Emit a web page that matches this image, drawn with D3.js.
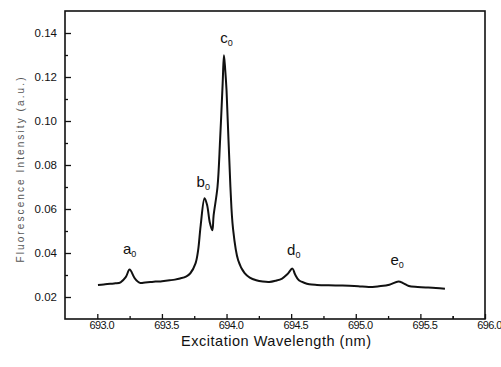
<!DOCTYPE html>
<html>
<head>
<meta charset="utf-8">
<script src="https://cdn.jsdelivr.net/npm/d3@7"></script>
<style>
  body { margin: 0; background: #fff; }
  text { font-family: "Liberation Sans", Arial, sans-serif; fill: #111; }
</style>
</head>
<body>
<div id="chart"></div>
<script>
// Spectrum: wavelength (nm) and intensity (a.u.)
var wavelength = [693.005, 693.05, 693.10, 693.14, 693.18, 693.22, 693.25, 693.29, 693.33, 693.37,
  693.41, 693.45, 693.49, 693.53, 693.56, 693.60, 693.64, 693.69, 693.72, 693.76,
  693.78, 693.80, 693.83, 693.85, 693.87, 693.89, 693.90, 693.93, 693.95, 693.97,
  693.98, 693.99, 694.00, 694.03, 694.05, 694.09, 694.14, 694.18, 694.23, 694.28,
  694.33, 694.38, 694.43, 694.47, 694.51, 694.53, 694.56, 694.60, 694.64, 694.70,
  694.79, 694.87, 694.95, 695.02, 695.10, 695.18, 695.26, 695.33, 695.37, 695.41,
  695.48, 695.56, 695.62, 695.69];
var intensity = [0.0255, 0.0257, 0.0260, 0.0262, 0.0267, 0.0290, 0.0325, 0.0285, 0.0264, 0.0266,
  0.0268, 0.0270, 0.0271, 0.0274, 0.0276, 0.0279, 0.0284, 0.0294, 0.0308, 0.0353,
  0.0412, 0.0526, 0.0649, 0.0617, 0.0540, 0.0503, 0.0571, 0.0700, 0.0912, 0.1171,
  0.1299, 0.1230, 0.1140, 0.0700, 0.0512, 0.0367, 0.0308, 0.0288, 0.0276, 0.0270,
  0.0268, 0.0274, 0.0284, 0.0303, 0.0329, 0.0303, 0.0276, 0.0265, 0.0258, 0.0255,
  0.0253, 0.0252, 0.0251, 0.0249, 0.0245, 0.0249, 0.0256, 0.0271, 0.0262, 0.0250,
  0.0246, 0.0243, 0.0241, 0.0238];

// Peak labels
var peakNames = ["a", "b", "c", "d", "e"];
var peakX = [693.25, 693.82, 694.00, 694.52, 695.32];
var peakY = [0.0395, 0.0699, 0.1355, 0.0390, 0.0345];

var xTicks = [693.0, 693.5, 694.0, 694.5, 695.0, 695.5, 696.0];
var yTicks = [0.02, 0.04, 0.06, 0.08, 0.10, 0.12, 0.14];

var svgWidth = 501, svgHeight = 367;
var margin = {top: 11, right: 16, bottom: 48, left: 65};
var chartWidth = svgWidth - margin.left - margin.right;
var chartHeight = svgHeight - margin.top - margin.bottom;

var svg = d3.select("#chart").append("svg")
    .attr("width", svgWidth)
    .attr("height", svgHeight);

var chartGroup = svg.append("g")
    .attr("transform", `translate(${margin.left}, ${margin.top})`);

var xScale = d3.scaleLinear().domain([692.75, 696.0]).range([0, chartWidth]);
var yScale = d3.scaleLinear().domain([0.01, 0.15]).range([chartHeight, 0]);

// frame
chartGroup.append("rect")
    .attr("width", chartWidth)
    .attr("height", chartHeight)
    .attr("fill", "none")
    .attr("stroke", "#111")
    .attr("stroke-width", 1.6);

// minor ticks
var xMinor = xTicks.map(d => d - 0.25).concat([695.75]).filter(d => d > 692.75);
var yMinor = yTicks.map(d => d + 0.01).filter(d => d < 0.15);

chartGroup.append("g")
    .attr("transform", `translate(0, ${chartHeight})`)
    .call(d3.axisBottom(xScale).tickValues(xMinor).tickSize(-3).tickFormat(""))
    .call(g => g.select(".domain").remove());
chartGroup.append("g")
    .call(d3.axisLeft(yScale).tickValues(yMinor).tickSize(-3).tickFormat(""))
    .call(g => g.select(".domain").remove());

// major ticks
var xAxis = chartGroup.append("g")
    .attr("transform", `translate(0, ${chartHeight})`)
    .call(d3.axisBottom(xScale).tickValues(xTicks).tickSize(-5).tickPadding(2).tickFormat(d3.format(".1f")));
xAxis.select(".domain").remove();
xAxis.selectAll("text")
    .attr("dx", 4)
    .style("font-size", "11px")
    .style("letter-spacing", "-0.6px");

var yAxis = chartGroup.append("g")
    .call(d3.axisLeft(yScale).tickValues(yTicks).tickSize(-6).tickPadding(8).tickFormat(d3.format(".2f")));
yAxis.select(".domain").remove();
yAxis.selectAll("text").style("font-size", "11.5px");

chartGroup.selectAll(".tick line").attr("stroke", "#111").attr("stroke-width", 1.3);

// spectrum
var line = d3.line()
    .x((d, i) => xScale(wavelength[i]))
    .y(d => yScale(d))
    .curve(d3.curveCatmullRom.alpha(0.5));

chartGroup.append("path")
    .datum(intensity)
    .attr("d", line)
    .attr("fill", "none")
    .attr("stroke", "#111")
    .attr("stroke-width", 2)
    .attr("stroke-linejoin", "round");

// peak labels
var labels = chartGroup.append("g").selectAll("text")
    .data(peakNames)
    .enter()
    .append("text")
    .attr("x", (d, i) => xScale(peakX[i]))
    .attr("y", (d, i) => yScale(peakY[i]))
    .attr("text-anchor", "middle")
    .style("font-size", "15px");
labels.append("tspan").text(d => d);
labels.append("tspan").attr("dy", 3).style("font-size", "9px").text("0");

// axis titles
chartGroup.append("text")
    .attr("x", chartWidth / 2 + 1)
    .attr("y", chartHeight + 27)
    .attr("text-anchor", "middle")
    .attr("textLength", 190)
    .style("font-size", "14.5px")
    .text("Excitation Wavelength (nm)");

svg.append("text")
    .attr("transform", "translate(24, 170) rotate(-90)")
    .attr("text-anchor", "middle")
    .attr("textLength", 185)
    .style("font-size", "10px")
    .style("fill", "#555")
    .text("Fluorescence Intensity (a.u.)");
</script>
</body>
</html>
